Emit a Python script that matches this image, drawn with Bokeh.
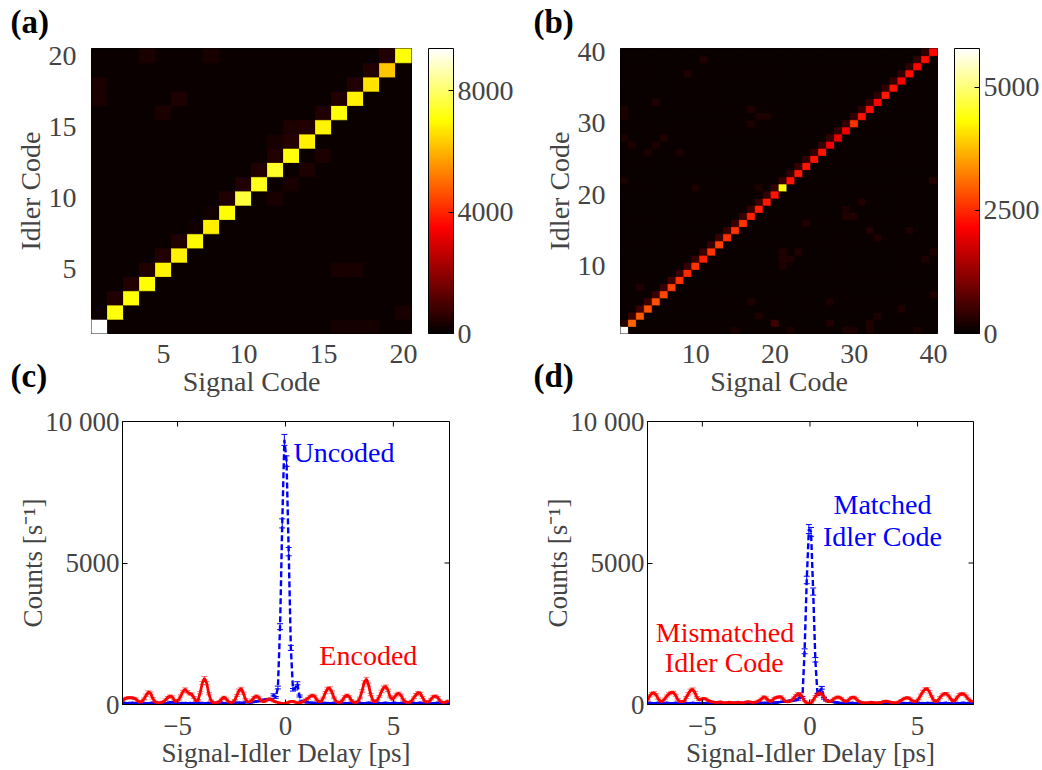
import numpy as np
from bokeh.core.properties import value
from bokeh.embed import file_html
from bokeh.layouts import column, row
from bokeh.models import (ColorBar, ColumnDataSource, FixedTicker, GridBox, Label,
                          LinearColorMapper, Range1d)
from bokeh.plotting import figure
from bokeh.resources import INLINE

FONT = "Liberation Serif"
FS_MAP = "28px"
FS_SCAN = "27px"

# ---------------------------------------------------------------- (a) 20-chip codes
n_codes_a = 20
diag_a = [9400, 7150, 7100, 7050, 6900, 6850, 7000, 6800, 7050, 7600,
          7300, 7400, 7150, 6850, 6900, 7100, 6850, 6650, 6250, 7100]
# cross-talk into idler code = signal code + 1
upper_a = [180, 430, 450, 420, 450, 430, 190, 200, 440, 430,
           440, 450, 480, 470, 440, 450, 430, 420, 450]
extra_a_signal = [13, 12, 14, 15, 12, 13, 1, 1, 4, 8, 6, 5, 16, 17, 16, 17, 18, 20]
extra_a_idler = [15, 14, 12, 13, 10, 11, 17, 18, 20, 20, 17, 16, 5, 5, 1, 1, 1, 2]
extra_a_count = [400, 300, 380, 350, 300, 300, 350, 350, 350, 330, 380, 350, 300, 300, 280, 280, 280, 300]
background_a = 120
cbar_max_a = 9400
cbar_ticks_a = [0, 4000, 8000]
code_ticks_a = [5, 10, 15, 20]

# ---------------------------------------------------------------- (b) 40-chip codes
n_codes_b = 40
diag_b = [5790, 2990, 2920, 2850, 2850, 2780, 2710, 2580, 2520, 2580,
          2440, 2580, 2710, 2580, 2580, 2580, 2440, 2440, 2370, 2310,
          4400, 2310, 2370, 2310, 2310, 2310, 2050, 1980, 2050, 2580,
          2310, 2240, 2180, 2370, 2310, 2110, 2240, 2180, 2240, 2180]
upper_b = [300, 480, 520, 500, 520, 480, 500, 470, 450, 480,
           460, 470, 480, 460, 470, 450, 440, 430, 420, 450,
           440, 420, 430, 420, 410, 430, 420, 400, 410, 420,
           400, 410, 400, 420, 410, 400, 420, 410, 400]
extra_b_signal = [11, 9, 5, 1, 1, 17, 18, 19, 17, 1, 2, 5, 6, 4, 8, 1, 10, 18, 40, 24,
                  29, 31, 29, 30, 32, 33, 37, 21, 21, 21, 22, 23, 40, 39, 40, 3, 17, 27,
                  36, 33, 18, 20, 27, 32, 32, 29, 30, 15, 22, 38]
extra_b_idler = [39, 37, 33, 32, 31, 32, 31, 31, 30, 28, 27, 27, 28, 26, 26, 22, 21, 21, 22, 16,
                 18, 19, 17, 17, 15, 14, 15, 12, 11, 10, 11, 12, 12, 11, 6, 7, 5, 5,
                 4, 3, 3, 2, 2, 2, 1, 1, 1, 1, 1, 1]
extra_b_count = [260, 250, 260, 220, 220, 250, 240, 240, 240, 220, 240, 240, 250, 240, 240, 220, 230, 230, 300, 260,
                 240, 260, 260, 260, 260, 260, 240, 260, 260, 240, 240, 260, 240, 240, 230, 260, 240, 240,
                 240, 240, 240, 520, 260, 260, 240, 230, 230, 220, 220, 220]
background_b = 80
cbar_max_b = 5790
cbar_ticks_b = [0, 2500, 5000]
code_ticks_b = [10, 20, 30, 40]

# ---------------------------------------------------------------- (c), (d) delay scans
delay_ps = np.round(np.arange(152) * 0.1 - 7.55, 2)

uncoded = [60, 55, 45, 50, 65, 55, 40, 45, 55, 60,
           50, 45, 40, 55, 60, 50, 45, 55, 60, 50,
           45, 55, 70, 80, 65, 50, 45, 50, 60, 55,
           45, 50, 60, 55, 45, 50, 65, 55, 45, 50,
           60, 55, 45, 50, 60, 70, 60, 50, 45, 55,
           60, 55, 60, 70, 65, 55, 60, 75, 85, 70,
           80, 95, 110, 120, 130, 150, 170, 180, 160, 190,
           340, 250, 600, 2750, 6400, 9350, 8600, 5400, 2000, 520,
           560, 750, 300, 130, 95, 80, 70, 65, 60, 55,
           60, 55, 45, 50, 60, 55, 45, 50, 60, 55,
           45, 50, 60, 55, 45, 50, 60, 55, 45, 50,
           60, 55, 45, 50, 65, 55, 45, 50, 60, 55,
           45, 55, 60, 50, 45, 55, 60, 50, 45, 55,
           60, 50, 45, 55, 60, 50, 45, 55, 60, 50,
           45, 55, 60, 50, 45, 55, 60, 50, 45, 55,
           60, 50]

encoded = [130, 200, 230, 240, 235, 230, 200, 130, 80, 110,
           200, 330, 440, 400, 220, 100, 70, 60, 70, 100,
           170, 250, 300, 270, 150, 100, 160, 300, 460, 540,
           450, 380, 370, 250, 130, 150, 420, 760, 930, 750,
           380, 140, 70, 60, 70, 110, 200, 260, 200, 100,
           70, 80, 150, 320, 500, 560, 400, 180, 90, 90,
           160, 250, 300, 260, 160, 100, 110, 170, 200, 170,
           120, 90, 70, 50, 40, 40, 50, 80, 110, 110,
           80, 60, 60, 80, 120, 170, 220, 290, 330, 290,
           170, 100, 110, 230, 420, 560, 580, 440, 230, 110,
           70, 80, 160, 280, 330, 280, 150, 80, 70, 110,
           230, 480, 780, 900, 700, 350, 140, 90, 150, 280,
           460, 600, 640, 500, 270, 180, 260, 360, 400, 330,
           180, 100, 70, 80, 130, 240, 350, 420, 390, 250,
           120, 80, 100, 190, 280, 300, 250, 140, 80, 70,
           90, 130]

matched = [55, 60, 50, 45, 55, 60, 50, 45, 55, 60,
           50, 45, 55, 60, 50, 45, 55, 60, 50, 45,
           55, 60, 50, 45, 55, 60, 50, 45, 55, 60,
           50, 45, 55, 60, 50, 45, 55, 60, 50, 45,
           55, 60, 50, 45, 55, 60, 50, 45, 55, 60,
           50, 55, 60, 65, 60, 55, 60, 65, 70, 65,
           70, 80, 90, 100, 110, 120, 130, 140, 150, 160,
           180, 290, 250, 1880, 4400, 6200, 6100, 3990, 1580, 350,
           450, 590, 220, 150, 120, 100, 90, 80, 70, 60,
           55, 60, 50, 45, 55, 60, 50, 45, 55, 60,
           50, 45, 55, 60, 50, 45, 55, 60, 50, 45,
           55, 60, 50, 45, 55, 60, 50, 45, 55, 60,
           50, 45, 55, 60, 50, 45, 55, 60, 50, 45,
           55, 60, 50, 45, 55, 60, 50, 45, 55, 60,
           50, 45, 55, 60, 50, 45, 55, 60, 50, 45,
           55, 60]

mismatched = [150, 300, 390, 410, 340, 200, 110, 120, 200, 300,
              380, 420, 430, 330, 180, 100, 100, 120, 250, 380,
              500, 540, 420, 250, 160, 180, 220, 200, 150, 110,
              90, 80, 70, 80, 90, 70, 60, 70, 80, 70,
              60, 70, 80, 70, 60, 70, 90, 100, 80, 70,
              80, 100, 140, 200, 270, 240, 150, 110, 150, 220,
              250, 270, 270, 200, 120, 90, 100, 150, 230, 320,
              380, 370, 250, 120, 60, 40, 60, 150, 280, 370,
              400, 370, 260, 150, 100, 110, 160, 220, 260, 260,
              220, 150, 110, 130, 200, 250, 260, 200, 120, 80,
              70, 60, 60, 70, 80, 70, 60, 60, 70, 80,
              110, 120, 100, 80, 70, 60, 70, 100, 150, 200,
              230, 240, 200, 140, 100, 120, 200, 330, 460, 540,
              550, 450, 290, 150, 100, 140, 250, 340, 380, 380,
              300, 190, 120, 150, 260, 350, 380, 370, 300, 200,
              130, 100]

# coincidence rates were integrated for this long per delay step
integration_time_s = 0.25
count_ticks = [0, 5000, 10000]
delay_ticks = [-5, 0, 5]
delay_lim = (-7.55, 7.6)
count_lim = (0, 10000)

panel_tags = ["(a)", "(b)", "(c)", "(d)"]


def hot_palette(m=256):
    n = int(3 * m / 8)
    cols = []
    for i in range(m):
        r = min(1.0, (i + 1) / n)
        g = 0.0 if i < n else min(1.0, (i + 1 - n) / n)
        b = 0.0 if i < 2 * n else (i + 1 - 2 * n) / (m - 2 * n)
        cols.append("#%02x%02x%02x" % (round(r * 255), round(g * 255), round(b * 255)))
    return cols


HOT = hot_palette()


def style_axis(ax, fs):
    ax.axis_label_text_font = FONT
    ax.axis_label_text_font_size = fs
    ax.axis_label_text_font_style = "normal"
    ax.major_label_text_font = FONT
    ax.major_label_text_font_size = fs
    ax.minor_tick_line_color = None


def heatmap_panel(n, diag, upper, ex_s, ex_i, ex_c, bg, cmax, ticks, cticks, left, right):
    counts = np.full((n, n), float(bg))
    k = np.arange(n)
    counts[k, k] = diag
    counts[k[1:], k[:-1]] = upper
    counts[np.array(ex_i) - 1, np.array(ex_s) - 1] = ex_c
    sig, idl = np.meshgrid(np.arange(1, n + 1), np.arange(1, n + 1))
    src = ColumnDataSource(dict(signal=sig.ravel(), idler=idl.ravel(), count=counts.ravel()))
    mapper = LinearColorMapper(palette=HOT, low=0, high=cmax)

    p = figure(width=521, height=400, x_range=Range1d(0.5, n + 0.5), y_range=Range1d(0.5, n + 0.5),
               min_border_left=left, min_border_right=right, min_border_top=48, min_border_bottom=67,
               output_backend="svg", toolbar_location=None)
    # dark frame behind the cells hides anti-aliasing seams between them
    p.background_fill_color = "black"
    cmap = {"field": "count", "transform": mapper}
    p.rect("signal", "idler", 1, 1, source=src, fill_color=cmap, line_color=cmap, line_width=0.8)
    p.grid.visible = False
    p.outline_line_color = "black"
    for ax in (p.xaxis[0], p.yaxis[0]):
        style_axis(ax, FS_MAP)
        ax.ticker = FixedTicker(ticks=ticks)
        ax.major_tick_line_color = None
        ax.axis_line_color = None
    p.xaxis.axis_label = "Signal Code"
    p.yaxis.axis_label = "Idler Code"
    p.xaxis.major_label_standoff = 5
    p.xaxis.axis_label_standoff = 0
    p.yaxis.major_label_standoff = 9
    p.yaxis.axis_label_standoff = 0

    cb = ColorBar(color_mapper=mapper, ticker=FixedTicker(ticks=cticks), width=25, height=285,
                  padding=0, margin=0, location=(17, 0), label_standoff=4,
                  major_label_text_font=FONT, major_label_text_font_size=FS_MAP,
                  major_tick_line_color="black", major_tick_in=5, major_tick_out=0,
                  bar_line_color="black", border_line_color=None, background_fill_color=None)
    p.add_layout(cb, "right")
    return p


def delay_panel(blue, red, left, right):
    p = figure(width=521, height=370, x_range=Range1d(*delay_lim), y_range=Range1d(*count_lim),
               min_border_left=left, min_border_right=right, min_border_top=21, min_border_bottom=65,
               output_backend="svg", toolbar_location=None)
    p.grid.visible = False
    p.outline_line_color = "black"

    for counts, color, dash, lw, alpha in ((blue, "#0000ff", "6 3", 2.4, 1.0),
                                           (red, "#ff0000", "solid", 2.8, 0.55)):
        c = np.asarray(counts, dtype=float)
        err = np.sqrt(c / integration_time_s)
        src = ColumnDataSource(dict(x=delay_ps, y=c, lo=c - err, hi=c + err))
        p.line("x", "y", source=src, line_color=color, line_width=lw, line_dash=dash)
        p.segment("x", "lo", "x", "hi", source=src, line_color=color, line_width=1, line_alpha=alpha)
        p.scatter("x", "hi", source=src, marker="dash", size=6, line_color=color, line_alpha=alpha)
        p.scatter("x", "lo", source=src, marker="dash", size=6, line_color=color, line_alpha=alpha)

    # inward tick marks mirrored on the top and right edges of the box
    p.scatter(delay_ticks, [count_lim[1]] * len(delay_ticks), marker="dash", angle=np.pi / 2,
              size=10, line_color="black", line_width=1)
    p.scatter([delay_lim[1]] * len(count_ticks), count_ticks, marker="dash",
              size=10, line_color="black", line_width=1)

    p.xaxis.axis_label = "Signal-Idler Delay [ps]"
    p.yaxis.axis_label = "Counts [s\u207b\u00b9]"
    for ax in (p.xaxis[0], p.yaxis[0]):
        style_axis(ax, FS_SCAN)
        ax.major_tick_in = 5
        ax.major_tick_out = 0
    p.xaxis.ticker = FixedTicker(ticks=delay_ticks)
    p.xaxis.major_label_overrides = {-5: "\u22125", 0: "0", 5: "5"}
    p.yaxis.ticker = FixedTicker(ticks=count_ticks)
    p.yaxis.major_label_overrides = {0: "0", 5000: "5000", 10000: "10 000"}
    p.xaxis.major_label_standoff = 12
    p.xaxis.axis_label_standoff = 0
    p.yaxis.major_label_standoff = 3
    p.yaxis.axis_label_standoff = -6
    return p


pa = heatmap_panel(n_codes_a, diag_a, upper_a, extra_a_signal, extra_a_idler, extra_a_count,
                   background_a, cbar_max_a, code_ticks_a, cbar_ticks_a, left=91, right=110)
pb = heatmap_panel(n_codes_b, diag_b, upper_b, extra_b_signal, extra_b_idler, extra_b_count,
                   background_b, cbar_max_b, code_ticks_b, cbar_ticks_b, left=99, right=103)
pc = delay_panel(uncoded, encoded, left=122, right=72)
pd = delay_panel(matched, mismatched, left=126, right=69)

txt = dict(text_font=FONT, text_font_size="28px")
pc.add_layout(Label(x=0.37, y=8900, text="Uncoded", text_color="#0000ff",
                    text_baseline="middle", text_align="left", **txt))
pc.add_layout(Label(x=1.57, y=1725, text="Encoded", text_color="#ff0000",
                    text_baseline="middle", text_align="left", **txt))
pd.add_layout(Label(x=3.37, y=7075, text="Matched", text_color="#0000ff",
                    text_baseline="middle", text_align="center", **txt))
pd.add_layout(Label(x=3.37, y=5925, text="Idler Code", text_color="#0000ff",
                    text_baseline="middle", text_align="center", **txt))
pd.add_layout(Label(x=-3.95, y=2545, text="Mismatched", text_color="#ff0000",
                    text_baseline="middle", text_align="center", **txt))
pd.add_layout(Label(x=-3.98, y=1468, text="Idler Code", text_color="#ff0000",
                    text_baseline="middle", text_align="center", **txt))

panels = column(row(pa, pb), row(pc, pd))

# transparent page-sized layer carrying the panel letters, laid over the 2x2 panels
tags = figure(width=1042, height=770, x_range=Range1d(0, 1042), y_range=Range1d(770, 0),
              min_border=0, output_backend="svg", toolbar_location=None)
tags.axis.visible = False
tags.grid.visible = False
tags.outline_line_color = None
tags.background_fill_color = None
tags.border_fill_color = None
tags.text(x=[10, 533, 10, 533], y=[3, 3, 357, 357], text=panel_tags,
          text_font=value(FONT), text_font_size="33px", text_font_style="bold",
          text_baseline="top", text_align="left", text_color="black")

layout = GridBox(children=[(panels, 0, 0), (tags, 0, 0)])
open("out.html", "w").write(file_html(layout, INLINE))
